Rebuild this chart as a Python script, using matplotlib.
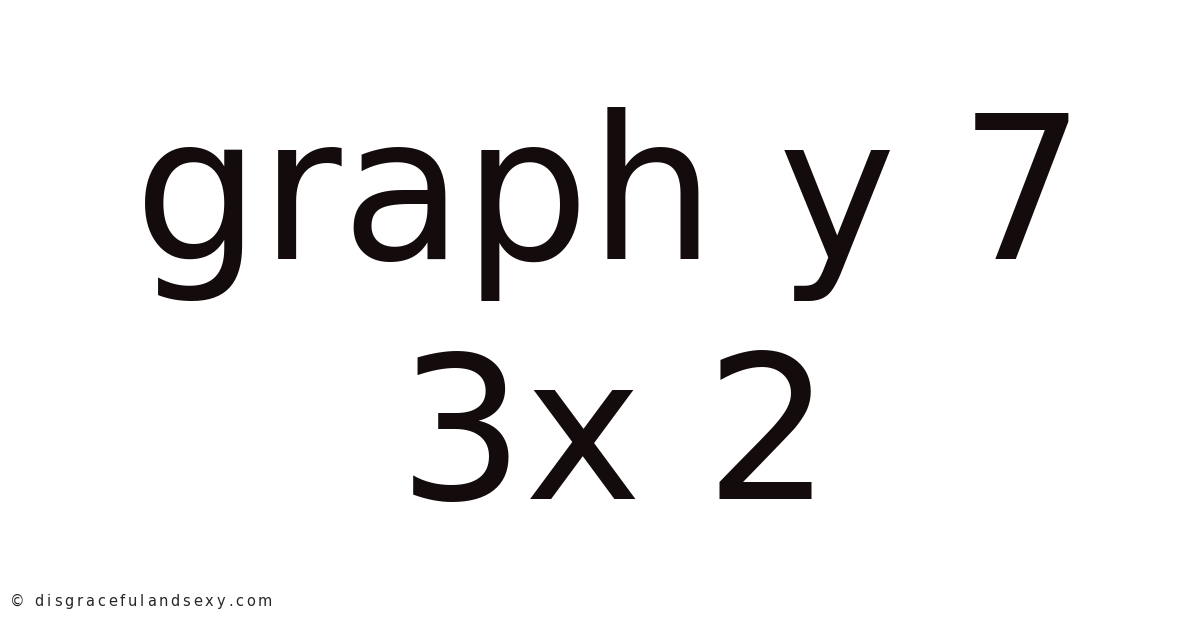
import matplotlib
matplotlib.use("Agg")
import matplotlib.pyplot as plt

# text shown on the card
title_lines = ["graph y 7", "3x 2"]
credit = "\u00a9 disgracefulandsexy.com"

TEXT_COLOR = "#140c0c"
W, H = 1200, 628

fig = plt.figure(figsize=(W / 100, H / 100), dpi=100)
fig.patch.set_facecolor("white")

# baselines in pixels from the top
baselines = [259, 499]
centers = [610, 615]
for line, yb, xc in zip(title_lines, baselines, centers):
    fig.text(xc / W, 1 - yb / H, line, ha="center", va="baseline",
             fontsize=143, color=TEXT_COLOR, family="DejaVu Sans")

# credit line, drawn with a little letter spacing
renderer = fig.canvas.get_renderer()
x = 10.0
for ch in credit:
    t = fig.text(x / W, 1 - 606 / H, ch, ha="left", va="baseline",
                 fontsize=10.5, color="#262626", family="DejaVu Sans")
    if ch == " ":
        adv = 4.5
    else:
        adv = t.get_window_extent(renderer).width
    x += adv + 2.8

fig.savefig("out.png", dpi=100, facecolor="white")
